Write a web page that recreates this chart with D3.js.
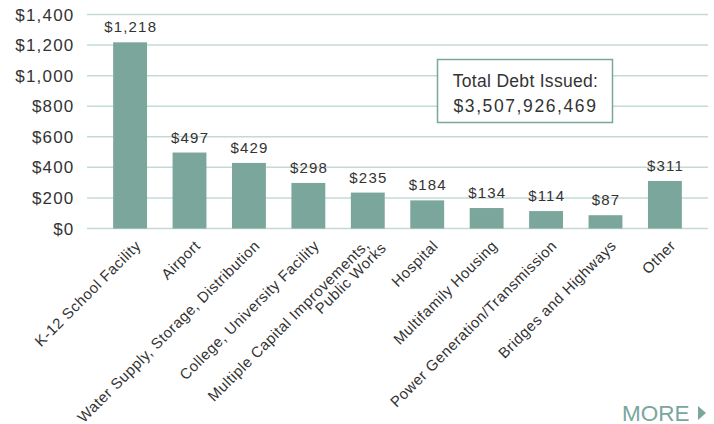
<!DOCTYPE html>
<html>
<head>
<meta charset="utf-8">
<script src="https://cdn.jsdelivr.net/npm/d3@7"></script>
<style>
  body { margin: 0; background: #fff; }
  text { font-family: "Liberation Sans", Arial, sans-serif; fill: #333; }
</style>
</head>
<body>
<div id="chart"></div>
<script>
// data (millions of dollars)
const categories = ['K-12 School Facility', 'Airport', 'Water Supply, Storage, Distribution',
  'College, University Facility', 'Multiple Capital Improvements,|Public Works', 'Hospital',
  'Multifamily Housing', 'Power Generation/Transmission', 'Bridges and Highways', 'Other'];
const values = [1218, 497, 429, 298, 235, 184, 134, 114, 87, 311];
const yTicks = [0, 200, 400, 600, 800, 1000, 1200, 1400];
const totalLabel = ['Total Debt Issued:', '$3,507,926,469'];

const width = 714, height = 424;
const margin = {top: 14.5, right: 6, bottom: 195.5, left: 87};

const svg = d3.select('#chart').append('svg')
    .attr('width', width)
    .attr('height', height);

const xScale = d3.scaleBand()
    .domain(categories)
    .range([margin.left, width - margin.right])
    .paddingInner(0.43)
    .paddingOuter(0.44);

const yScale = d3.scaleLinear()
    .domain([0, 1400])
    .range([height - margin.bottom, margin.top]);

const fmt = d3.format(',');

// gridlines
svg.append('g').selectAll('line')
    .data(yTicks)
    .join('line')
    .attr('x1', margin.left)
    .attr('x2', width - margin.right)
    .attr('y1', d => yScale(d))
    .attr('y2', d => yScale(d))
    .attr('stroke', '#c3dbd4')
    .attr('stroke-width', 1.5);

// y labels
svg.append('g').selectAll('text')
    .data(yTicks)
    .join('text')
    .attr('x', 74.5)
    .attr('y', d => yScale(d))
    .attr('dy', '0.36em')
    .attr('text-anchor', 'end')
    .style('font-size', '17px')
    .style('letter-spacing', '1.2px')
    .text(d => '$' + fmt(d));

// bars
svg.append('g').selectAll('rect')
    .data(values)
    .join('rect')
    .attr('x', (d, i) => xScale(categories[i]))
    .attr('width', xScale.bandwidth())
    .attr('y', d => yScale(d))
    .attr('height', d => yScale(0) - yScale(d))
    .attr('fill', '#7aa69c');

// value labels
svg.append('g').selectAll('text')
    .data(values)
    .join('text')
    .attr('x', (d, i) => xScale(categories[i]) + xScale.bandwidth() / 2 + 0.6)
    .attr('y', d => yScale(d) - 10)
    .attr('text-anchor', 'middle')
    .style('font-size', '15px')
    .style('letter-spacing', '1.2px')
    .text(d => '$' + fmt(d));

// category labels, rotated
const cat = svg.append('g').selectAll('text')
    .data(categories)
    .join('text')
    .attr('text-anchor', 'end')
    .style('font-size', '15px')
    .style('letter-spacing', '0.5px')
    .attr('transform', d => 'translate(' + (xScale(d) + xScale.bandwidth() / 2 + 8) + ',' + 243 + ') rotate(-45)');

cat.each(function(d) {
    const lines = d.split('|');
    const t = d3.select(this);
    lines.forEach((l, j) => {
        const k = j - (lines.length - 1);
        t.append('tspan')
            .attr('x', lines.length > 1 ? 4 + k * 10 : 0)
            .attr('y', lines.length > 1 ? 7 + k * 14 : 0)
            .attr('dy', '0.35em')
            .text(l);
    });
});

// total box
svg.append('rect')
    .attr('x', 437.5).attr('y', 59.5)
    .attr('width', 175).attr('height', 63)
    .attr('fill', '#fff')
    .attr('stroke', '#7aa69c')
    .attr('stroke-width', 1.5);

svg.append('g').selectAll('text')
    .data(totalLabel)
    .join('text')
    .attr('x', 525.5)
    .attr('y', (d, i) => 87 + i * 25)
    .attr('text-anchor', 'middle')
    .style('font-size', '17.5px')
    .style('letter-spacing', (d, i) => i === 0 ? '0.3px' : '1.6px')
    .text(d => d);

// MORE link
svg.append('text')
    .attr('x', 622)
    .attr('y', 421)
    .style('font-size', '22.5px')
    .style('fill', '#7aa69c')
    .text('MORE');

svg.append('path')
    .attr('d', 'M698,406 L706,413 L698,420 Z')
    .attr('fill', '#7aa69c');
</script>
</body>
</html>
